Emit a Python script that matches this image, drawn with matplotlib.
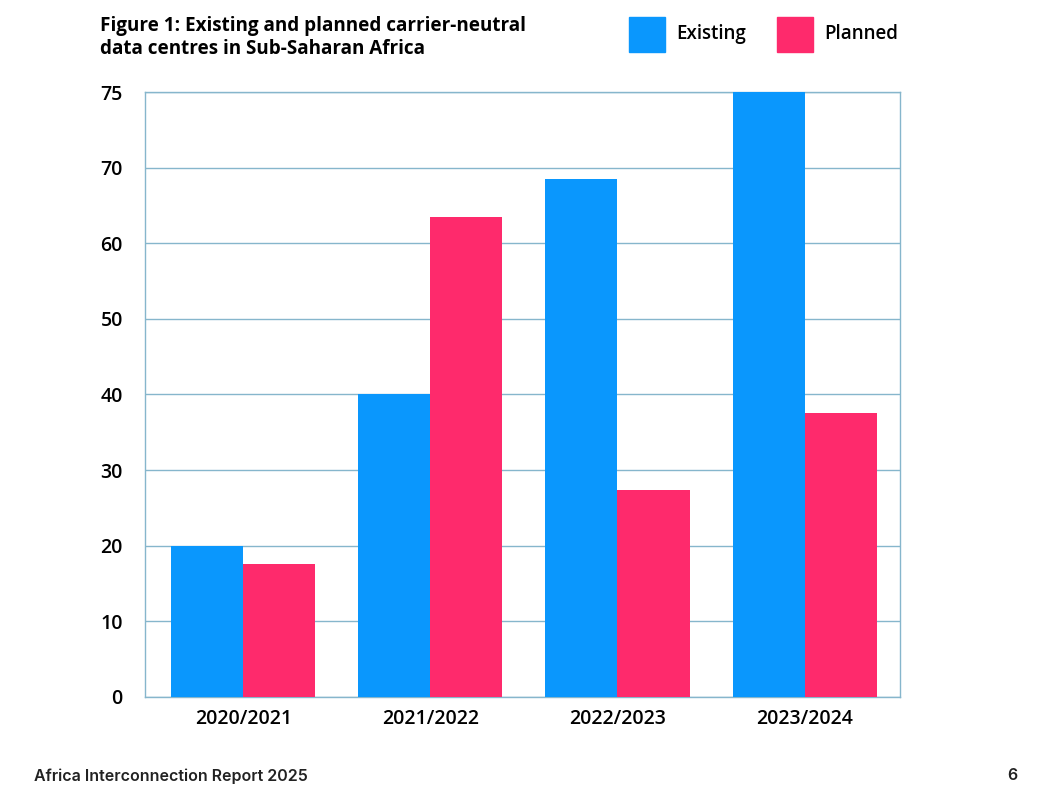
import numpy as np
import matplotlib.pyplot as plt
from matplotlib.patches import Rectangle

years = ['2020/2021', '2021/2022', '2022/2023', '2023/2024']
existing = [20, 40, 68.5, 80]
planned = [17.6, 63.5, 27.4, 37.6]
ytick_pos = [0, 10, 20, 30, 40, 50, 60, 70, 80]
ytick_labels = ['0', '10', '20', '30', '40', '50', '60', '70', '75']

blue = '#0a97fd'
pink = '#fe2a6c'
grid_col = '#86b6cc'

plt.rcParams['font.family'] = ['Open Sans', 'DejaVu Sans']

fig = plt.figure(figsize=(10.57, 7.98), dpi=100)
ax = fig.add_axes([0.1372, 0.1266, 0.7143, 0.7581])

x = np.arange(len(years))
w = 0.385
ax.bar(x - w / 2, existing, width=w, color=blue, zorder=3)
ax.bar(x + w / 2, planned, width=w, color=pink, zorder=3)

ax.set_xlim(-0.525, 3.51)
ax.set_ylim(0, 80)
ax.set_yticks(ytick_pos)
ax.set_yticklabels(ytick_labels, fontsize=14, fontweight='semibold')
ax.set_xticks(x)
ax.set_xticklabels(years, fontsize=14, fontweight='semibold')
ax.tick_params(length=0)
ax.tick_params(axis='y', pad=16)
ax.tick_params(axis='x', pad=9)
ax.grid(axis='y', color=grid_col, linewidth=1, zorder=0)
for s in ax.spines.values():
    s.set_color(grid_col)
    s.set_linewidth(1)

fig.text(100 / 1057, 1 - 38 / 798, 'Figure 1: Existing and planned carrier-neutral\ndata centres in Sub-Saharan Africa',
         fontsize=13.6, fontweight='bold', va='center', ha='left', linespacing=1.2)

# legend
for x0, col, lab in [(629, blue, 'Existing'), (777, pink, 'Planned')]:
    fig.patches.append(Rectangle((x0 / 1057, 1 - 52 / 798), 36 / 1057, 35 / 798,
                                 transform=fig.transFigure, color=col))
    fig.text((x0 + 47) / 1057, 1 - 34 / 798, lab, fontsize=13.5, fontweight='semibold',
             va='center', ha='left')

fig.text(34 / 1057, 1 - 776 / 798, 'Africa Interconnection Report 2025', fontsize=11.5,
         fontweight='semibold', family=['Inter', 'DejaVu Sans'], va='center', ha='left', color='#222222')
fig.text(1017 / 1057, 1 - 776 / 798, '6', fontsize=11.5, fontweight='semibold',
         family=['Inter', 'DejaVu Sans'], va='center', ha='right', color='#222222')

fig.savefig('out.png', dpi=100)
